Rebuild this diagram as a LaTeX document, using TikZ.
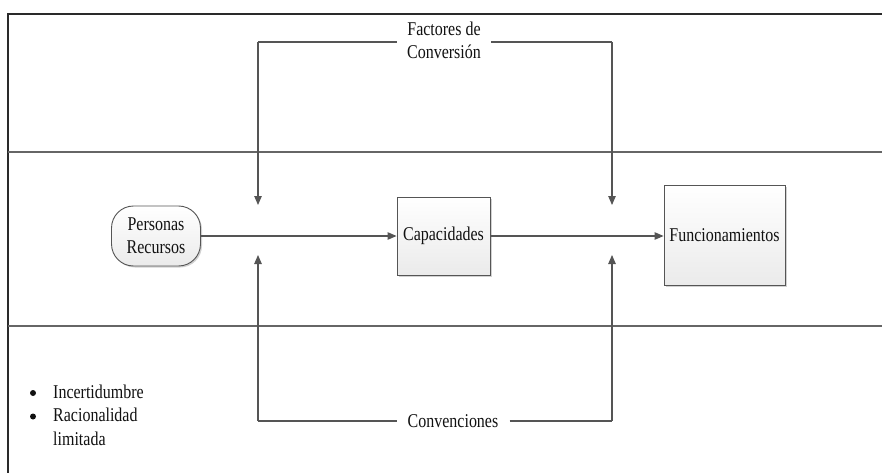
\documentclass[tikz,border=0pt]{standalone}
\usepackage{fontspec}
\setmainfont{Liberation Serif}[FakeStretch=0.82]
\usetikzlibrary{arrows.meta,shadows}
\definecolor{inkc}{HTML}{111111}
\definecolor{framec}{HTML}{2A2A2A}
\definecolor{sepc}{HTML}{666666}
\definecolor{linec}{HTML}{555555}
\tikzset{
  lbl/.style={font=\fontsize{19.5}{23}\selectfont, text=inkc, align=center, inner ysep=0pt},
  gaplbl/.style={lbl, inner xsep=10pt},
  procbox/.style={lbl, draw=linec, line width=0.9pt, top color=white, bottom color=black!8,
    drop shadow={shadow xshift=1.5pt, shadow yshift=-1.5pt, opacity=0.3, fill=black!60}},
  termbox/.style={procbox, rounded corners=22pt},
  flow/.style={draw=linec, line width=1.1pt, -{Triangle[length=9pt,width=7.5pt]}},
  feed/.style={draw=linec, line width=1.2pt},
  sepline/.style={draw=sepc, line width=2.8pt},
  frameline/.style={draw=framec, line width=2.4pt},
  dotmark/.style={circle, fill=inkc, inner sep=0pt, minimum size=6pt}
}
\begin{document}
\begin{tikzpicture}[x=1pt, y=-1pt]
  \useasboundingbox (0,0) rectangle (882,473);

  % outer frame (top and left edges) and the two lane separators
  \coordinate (ftl) at (8,14);
  \coordinate (ftr) at (884,14);
  \coordinate (fbl) at (8,475);
  \draw[frameline] (ftr) -- (ftl) -- (fbl);
  \coordinate (s1l) at (8,152);
  \coordinate (s1r) at (884,152);
  \coordinate (s2l) at (8,326);
  \coordinate (s2r) at (884,326);
  \draw[sepline] (s1l) -- (s1r);
  \draw[sepline] (s2l) -- (s2r);

  % main chain
  \node[termbox, minimum width=89pt, minimum height=60pt] (pers) at (156,236) {Personas\\Recursos};
  \node[procbox, minimum width=93pt, minimum height=78pt] (cap) at (443.5,236) {Capacidades};
  \node[procbox, minimum width=121pt, minimum height=100pt] (func) at (724.5,235.5) {Funcionamientos};

  \draw[flow] (pers.east) -- (cap.west);
  \draw[flow] (cap.east) -- (func.west |- cap.east);

  % conversion factors (top) and conventions (bottom)
  \node[gaplbl] (fac) at (444,40) {Factores de\\Conversión};
  \node[gaplbl, inner xsep=11pt] (conv) at (453,421) {Convenciones};

  \coordinate (tl) at (258,42);
  \coordinate (tr) at (612,42);
  \coordinate (dl) at (258,205);
  \coordinate (dr) at (612,205);
  \coordinate (bl) at (258,421);
  \coordinate (br) at (612,421);
  \coordinate (ul) at (258,255);
  \coordinate (ur) at (612,255);

  \draw[feed] (tl -| fac.west) -- (tl);
  \draw[feed] (tr -| fac.east) -- (tr);
  \draw[flow] (tl) -- (dl);
  \draw[flow] (tr) -- (dr);
  \draw[feed] (bl -| conv.west) -- (bl);
  \draw[feed] (br -| conv.east) -- (br);
  \draw[flow] (bl) -- (ul);
  \draw[flow] (br) -- (ur);

  % side notes: bullet list (base anchor sits on the last line)
  \node[dotmark] (b1) at (33,393) {};
  \node[dotmark] (b2) at (33,416.5) {};
  \node[anchor=base west, inner sep=0pt, text=inkc, align=left,
        font=\fontsize{19.5}{23.5}\selectfont] (notes) at (53,445)
    {Incertidumbre\\Racionalidad\\limitada};
\end{tikzpicture}
\end{document}
